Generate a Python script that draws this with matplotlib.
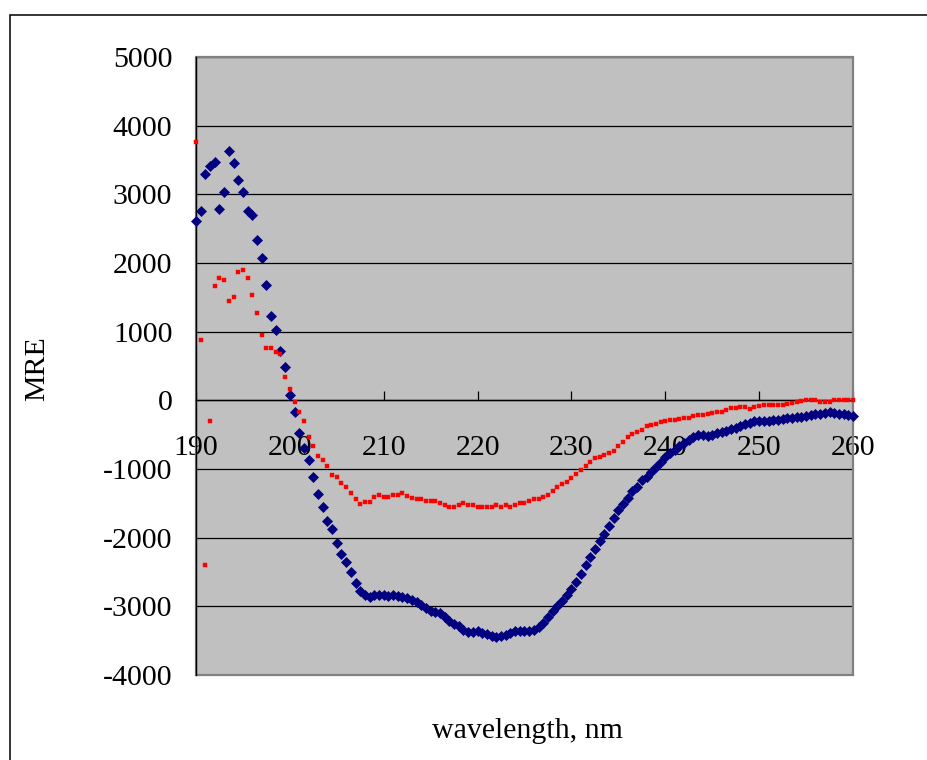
import numpy as np
import matplotlib
matplotlib.use("Agg")
import matplotlib.pyplot as plt
from matplotlib.patches import Rectangle

# Wavelength grid (nm), 0.5 nm steps
wl_start, wl_stop, wl_step = 190.0, 260.0, 0.5

# Mean residue ellipticity, sample 1 (navy diamonds)
mre_a = [
    2617, 2758, 3297, 3410, 3465, 2787, 3040, 3632, 3461, 3205,
    3040, 2758, 2695, 2332, 2079, 1681, 1230, 1026, 725, 492,
    72, -172, -478, -691, -870, -1114, -1371, -1550, -1759, -1880,
    -2074, -2239, -2356, -2501, -2657, -2778, -2841, -2865, -2840, -2835,
    -2835, -2845, -2840, -2850, -2860, -2880, -2904, -2935, -2977, -3030,
    -3070, -3085, -3098, -3160, -3220, -3260, -3293, -3340, -3380, -3370,
    -3365, -3385, -3399, -3430, -3447, -3430, -3413, -3390, -3365, -3365,
    -3365, -3360, -3350, -3300, -3243, -3160, -3074, -3000, -2920, -2840,
    -2750, -2640, -2530, -2400, -2280, -2165, -2055, -1945, -1837, -1715,
    -1594, -1505, -1424, -1320, -1264, -1160, -1110, -1040, -975, -891,
    -830, -769, -720, -665, -623, -580, -540, -510, -502, -515,
    -500, -470, -454, -440, -420, -400, -381, -350, -323, -305,
    -294, -294, -294, -290, -284, -275, -262, -255, -248, -240,
    -228, -220, -205, -196, -185, -177, -185, -196, -205, -211,
    -226,
]

# Mean residue ellipticity, sample 2 (red squares)
mre_b = [
    3758, 880, -2395, -308, 1671, 1783, 1754, 1444, 1502, 1866,
    1895, 1783, 1531, 1274, 958, 764, 764, 711, 681, 342,
    172, -26, -167, -308, -531, -672, -815, -870, -953, -1094,
    -1123, -1205, -1264, -1346, -1434, -1516, -1487, -1487, -1405, -1375,
    -1405, -1405, -1375, -1375, -1346, -1390, -1424, -1438, -1438, -1467,
    -1467, -1467, -1492, -1521, -1550, -1550, -1521, -1492, -1521, -1521,
    -1550, -1550, -1550, -1550, -1521, -1550, -1521, -1550, -1521, -1492,
    -1492, -1467, -1438, -1438, -1409, -1380, -1327, -1269, -1215, -1186,
    -1128, -1074, -1016, -950, -900, -841, -818, -790, -769, -731,
    -660, -600, -536, -490, -460, -430, -381, -360, -342, -320,
    -300, -290, -284, -270, -260, -250, -235, -220, -211, -196,
    -187, -163, -172, -138, -114, -114, -90, -99, -128, -90,
    -80, -75, -75, -75, -75, -75, -51, -41, -26, -3,
    5, 5, 5, -17, -26, -26, 0, 0, 0, 0,
    0,
]

x_ticks = [190, 200, 210, 220, 230, 240, 250, 260]
y_ticks = [-4000, -3000, -2000, -1000, 0, 1000, 2000, 3000, 4000, 5000]

wl = np.arange(wl_start, wl_stop + wl_step / 2, wl_step)

plt.rcParams["font.family"] = ["Liberation Serif", "DejaVu Serif"]

W, H = 928, 760
fig = plt.figure(figsize=(W / 100, H / 100), dpi=100)
fig.patch.set_facecolor("white")

# outer chart frame (extends past the right and bottom edges)
fig.add_artist(Rectangle((10 / W, -0.05), 1.2, 1 - 15 / H + 0.05,
                         transform=fig.transFigure, fill=False,
                         ec="black", lw=1.1))

left, right, top, bottom = 196, 853, 57, 675
ax = fig.add_axes([left / W, 1 - bottom / H, (right - left) / W, (bottom - top) / H])
ax.set_facecolor("#C0C0C0")

ax.set_xlim(190, 260)
ax.set_ylim(-4000, 5000)
ax.set_xticks(x_ticks)
ax.set_yticks(y_ticks)
ax.set_xticklabels([str(v) for v in x_ticks])
ax.set_yticklabels([str(v) for v in y_ticks])

ax.yaxis.grid(True, color="black", lw=0.9, zorder=1)
ax.set_axisbelow(True)

# plot-area border in grey
ax.add_patch(Rectangle((0, 0), 1, 1, transform=ax.transAxes, fill=False,
                       ec="#808080", lw=1.6, zorder=2, clip_on=False))
for side in ("top", "right"):
    ax.spines[side].set_visible(False)
ax.spines["left"].set_color("black")
ax.spines["left"].set_linewidth(1.0)
ax.spines["left"].set_zorder(3)
ax.spines["bottom"].set_position(("data", 0))
ax.spines["bottom"].set_color("black")
ax.spines["bottom"].set_linewidth(1.0)

ax.tick_params(axis="x", direction="in", length=6.5, width=0.9, color="black",
               pad=25, labelsize=21.5)
ax.tick_params(axis="y", length=0, pad=17, labelsize=21.5)

ax.plot(wl, mre_a, linestyle="none", marker="D", ms=5.1, mfc="#000080",
        mec="#000080", mew=0.5, zorder=4, clip_on=False)
ax.plot(wl, mre_b, linestyle="none", marker="s", ms=2.7, mfc="#FF0000",
        mec="#FF0000", mew=0.3, zorder=5, clip_on=False)

fig.text(37 / W, 1 - 369 / H, "MRE", rotation=90, ha="center", va="center",
         fontsize=21.5)
fig.text(527 / W, 1 - 731 / H, "wavelength, nm", ha="center", va="center",
         fontsize=21.5)

fig.savefig("out.png", dpi=100, facecolor="white")
